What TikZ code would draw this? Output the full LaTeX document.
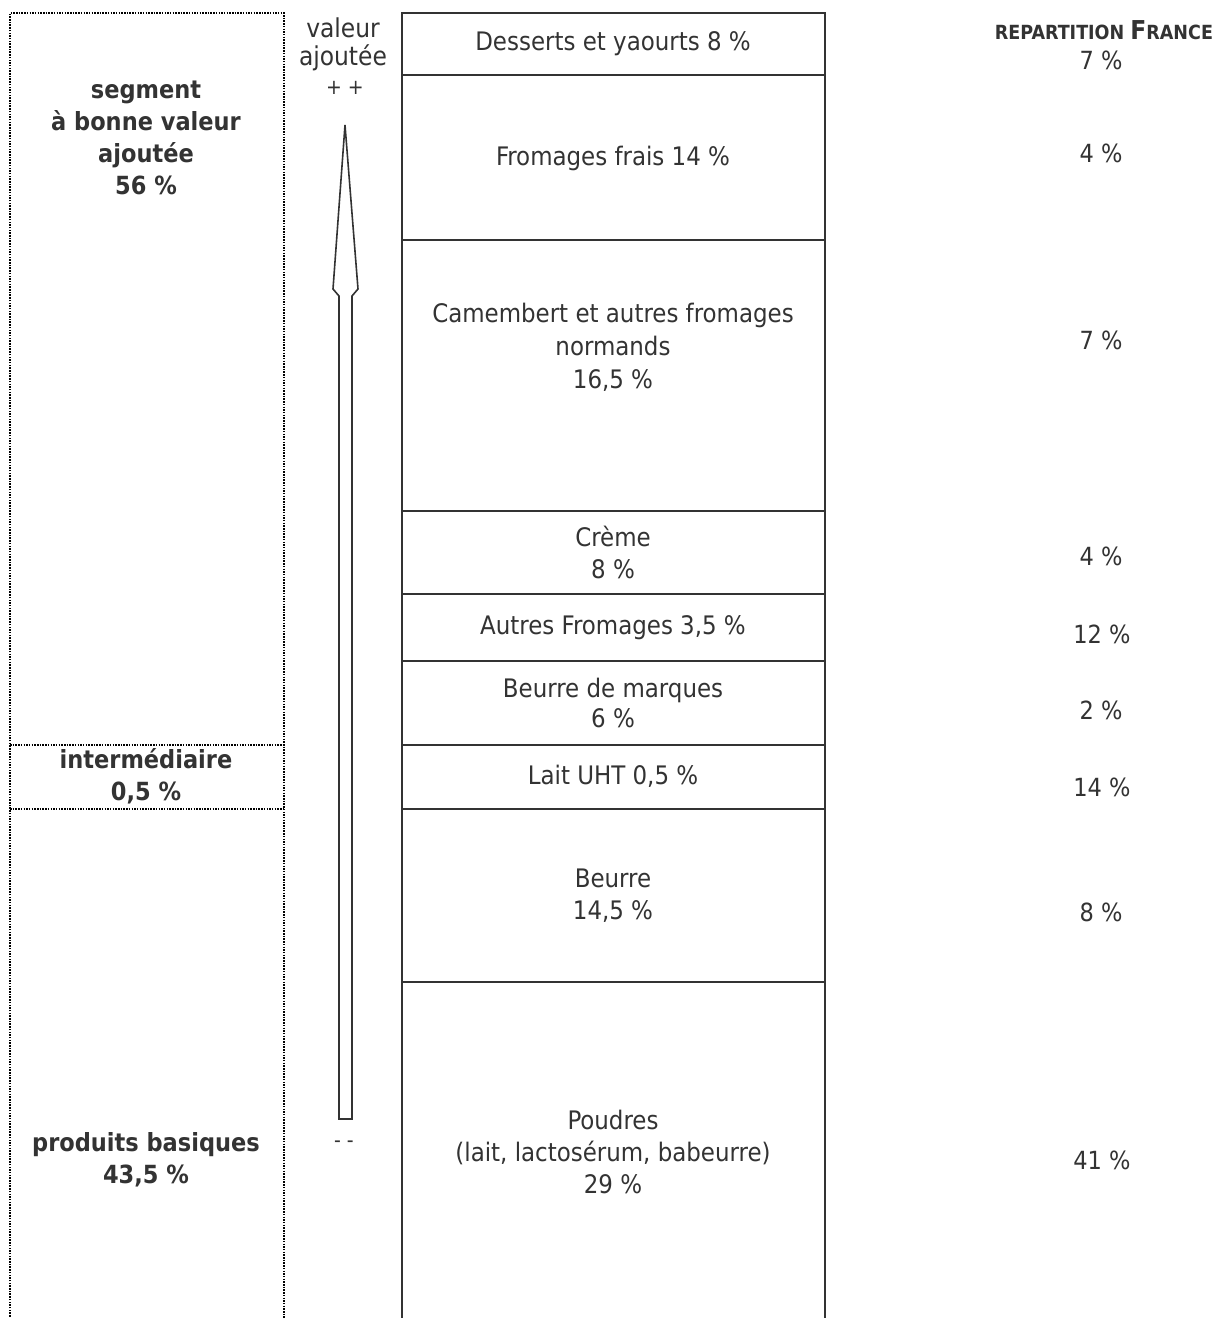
\documentclass[tikz,border=0pt]{standalone}
\usepackage{fontspec}
\setmainfont{DejaVu Sans Condensed}
\definecolor{ink}{HTML}{333333}
\tikzset{
  txt/.style={text=ink, align=center, inner sep=0pt, font=\fontsize{25.5}{32}\selectfont},
  btxt/.style={txt, font=\fontsize{25}{32}\selectfont\bfseries},
  ntxt/.style={txt, font=\fontsize{25}{32}\selectfont},
  stxt/.style={txt, font=\fontsize{21}{22}\selectfont},
  rowline/.style={draw=ink, line width=2pt},
  dotline/.style={draw=black, line width=2pt, dash pattern=on 1.5pt off 1.2pt},
  arrowline/.style={draw=ink, line width=1.6pt, line join=miter}
}
\begin{document}
\begin{tikzpicture}[x=1pt,y=-1pt]
\useasboundingbox (0,0) rectangle (1214,1318);
\clip (0,0) rectangle (1214,1318);
\fill[white] (0,0) rectangle (1214,1318);
% left dotted column
\draw[dotline] (10,1330) -- (10,13) -- (284,13) -- (284,1330);
\draw[dotline] (10,745) -- (284,745);
\draw[dotline] (10,809) -- (284,809);
\node[btxt] (seg) at (146,138) {segment\\à bonne valeur\\ajoutée\\56 \%};
\node[btxt] (inter) at (146,776) {intermédiaire\\0,5 \%};
\node[btxt] (basic) at (146,1160) {produits basiques\\43,5 \%};
% middle column rows
\draw[rowline] (402,1330) -- (402,13) -- (825,13) -- (825,1330);
\foreach \yy in {75,240,511,594,661,745,809,982}
  \draw[rowline] (402,\yy) -- (825,\yy);
\node[txt] (r1) at (613,44) {Desserts et yaourts 8 \%};
\node[txt] (r2) at (613,158) {Fromages frais 14 \%};
\node[txt, font=\fontsize{25.5}{33}\selectfont] (r3) at (613,347) {Camembert et autres fromages\\normands\\16,5 \%};
\node[txt] (r4) at (613,552) {Crème\\8 \%};
\node[txt] (r5) at (613,628) {Autres Fromages 3,5 \%};
\node[txt, font=\fontsize{25.5}{30}\selectfont] (r6) at (613,703) {Beurre de marques\\6 \%};
\node[txt] (r7) at (613,776) {Lait UHT 0,5 \%};
\node[txt] (r8) at (613,896) {Beurre\\14,5 \%};
\node[txt] (r9) at (613,1152) {Poudres\\(lait, lactosérum, babeurre)\\29 \%};
% value arrow
\node[txt, font=\fontsize{26}{28}\selectfont] (va) at (343,44) {valeur\\ajoutée};
\node[stxt] (pp) at (345,88) {+ +};
\node[stxt] (mm) at (344,1144) {- -};
\draw[arrowline] (345,125) -- (358,289) -- (352,296) -- (352,1119) -- (339,1119) -- (339,296) -- (333,289) -- cycle;
% right column
\node[txt, font=\fontsize{19.5}{20}\selectfont\bfseries] (hdr) at (1104,30) {REPARTITION {\fontsize{26}{20}\selectfont F}RANCE};
\node[ntxt] (f1) at (1101,60) {7 \%};
\node[ntxt] (f2) at (1101,153) {4 \%};
\node[ntxt] (f3) at (1101,340) {7 \%};
\node[ntxt] (f4) at (1101,556) {4 \%};
\node[ntxt] (f5) at (1102,634) {12 \%};
\node[ntxt] (f6) at (1101,710) {2 \%};
\node[ntxt] (f7) at (1102,787) {14 \%};
\node[ntxt] (f8) at (1101,912) {8 \%};
\node[ntxt] (f9) at (1102,1160) {41 \%};
\end{tikzpicture}
\end{document}
